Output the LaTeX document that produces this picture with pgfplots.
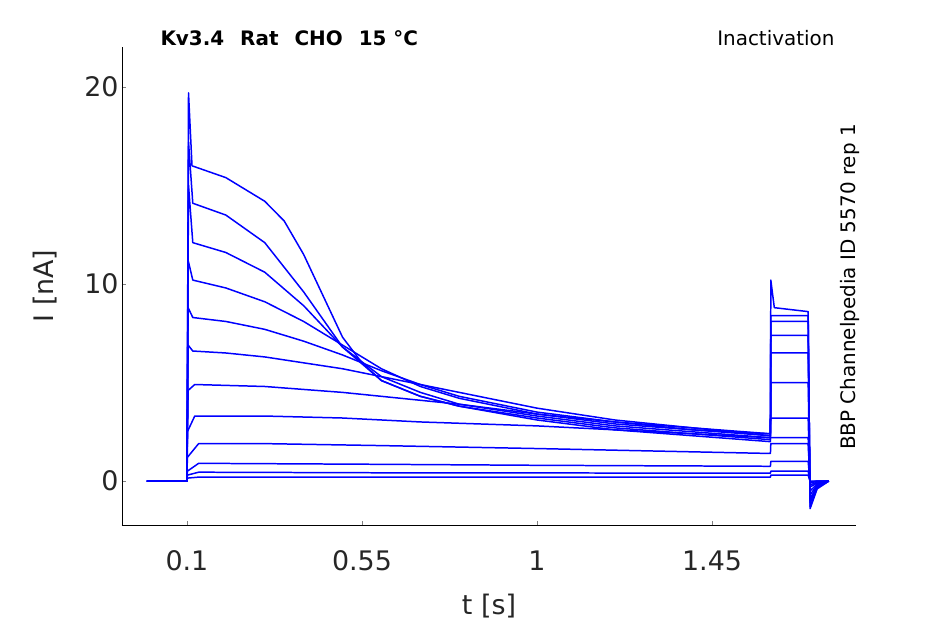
\documentclass[border=0pt]{standalone}
\usepackage{pgfplots}
\pgfplotsset{compat=1.18}
\usepackage{fontspec}
\setmainfont{DejaVu Sans}
\tikzset{tr/.style={blue, line width=1.5pt, mark=none, line join=round}}
\begin{document}
\begin{tikzpicture}
\path[use as bounding box] (-122bp,-99bp) rectangle (823bp,525bp);
\begin{axis}[scale only axis, width=734bp, height=478bp,
 xmin=-0.067, xmax=1.82, ymin=-2.23, ymax=22.03,
 axis x line*=bottom, axis y line*=left,
 xtick={0.1,0.55,1,1.45}, xticklabels={0.1,0.55,1,1.45},
 ytick={0,10,20}, tick align=inside,
 tick label style={font=\fontsize{27}{29}\selectfont, text=black!85},
 xticklabel style={yshift=-22bp},
 /pgf/number format/assume math mode=true,
 xlabel={t [s]}, ylabel={I [nA]},
 label style={font=\fontsize{27}{29}\selectfont, text=black!85},
 xlabel style={yshift=-16bp}, ylabel style={yshift=20bp},
 clip=false]
\addplot[tr] coordinates {(-0.003,0)(0.1,0)(0.101,0.15)(0.13,0.2)(0.6,0.2)(1.6,0.2)(1.601,0.3)(1.697,0.3)(1.702,0)(1.75,0)};
\addplot[tr] coordinates {(-0.003,0)(0.1,0)(0.101,0.3)(0.13,0.45)(0.6,0.42)(1.6,0.4)(1.601,0.5)(1.697,0.5)(1.702,-0.05)(1.72,0)(1.75,0)};
\addplot[tr] coordinates {(-0.003,0)(0.1,0)(0.101,0.5)(0.13,0.9)(0.6,0.85)(1.0,0.8)(1.6,0.75)(1.601,1.0)(1.697,1.0)(1.702,-0.1)(1.72,0)(1.75,0)};
\addplot[tr] coordinates {(-0.003,0)(0.1,0)(0.101,1.2)(0.13,1.9)(0.3,1.9)(0.6,1.8)(1.0,1.65)(1.6,1.4)(1.601,1.9)(1.697,1.9)(1.702,-0.2)(1.72,-0.05)(1.75,0)};
\addplot[tr] coordinates {(-0.003,0)(0.1,0)(0.101,2.5)(0.12,3.3)(0.3,3.3)(0.5,3.2)(0.7,3.0)(1.0,2.8)(1.3,2.5)(1.6,2.2)(1.601,2.2)(1.697,2.2)(1.702,-0.3)(1.72,-0.1)(1.75,0)};
\addplot[tr] coordinates {(-0.003,0)(0.1,0)(0.103,4.6)(0.12,4.9)(0.3,4.8)(0.5,4.5)(0.7,4.1)(0.8,3.9)(1.0,3.4)(1.2,3.0)(1.4,2.7)(1.6,2.3)(1.601,3.2)(1.697,3.2)(1.702,-0.5)(1.72,-0.15)(1.75,0)};
\addplot[tr] coordinates {(-0.003,0)(0.1,0)(0.103,6.9)(0.115,6.6)(0.2,6.5)(0.3,6.3)(0.4,6.0)(0.5,5.7)(0.6,5.3)(0.7,4.9)(0.8,4.5)(1.0,3.7)(1.2,3.1)(1.4,2.7)(1.6,2.4)(1.601,5.0)(1.697,5.0)(1.702,-0.7)(1.72,-0.2)(1.75,0)};
\addplot[tr] coordinates {(-0.003,0)(0.1,0)(0.103,8.8)(0.115,8.3)(0.2,8.1)(0.3,7.7)(0.4,7.1)(0.5,6.4)(0.6,5.6)(0.7,4.9)(0.8,4.3)(1.0,3.5)(1.2,3.0)(1.4,2.6)(1.6,2.4)(1.601,6.5)(1.697,6.5)(1.702,-0.9)(1.72,-0.25)(1.75,0)};
\addplot[tr] coordinates {(-0.003,0)(0.1,0)(0.103,11.2)(0.115,10.2)(0.2,9.8)(0.3,9.1)(0.4,8.1)(0.5,6.9)(0.6,5.7)(0.7,4.8)(0.8,4.2)(1.0,3.4)(1.2,2.9)(1.4,2.6)(1.6,2.3)(1.601,7.4)(1.697,7.4)(1.702,-1.0)(1.72,-0.3)(1.75,0)};
\addplot[tr] coordinates {(-0.003,0)(0.1,0)(0.104,15.0)(0.115,12.1)(0.2,11.6)(0.3,10.6)(0.4,8.9)(0.5,6.8)(0.6,5.3)(0.7,4.5)(0.8,3.9)(1.0,3.3)(1.2,2.8)(1.4,2.5)(1.6,2.2)(1.601,8.1)(1.697,8.1)(1.702,-1.1)(1.72,-0.3)(1.75,0)};
\addplot[tr] coordinates {(-0.003,0)(0.1,0)(0.104,17.2)(0.115,14.1)(0.2,13.5)(0.3,12.1)(0.4,9.6)(0.5,6.8)(0.6,5.1)(0.7,4.3)(0.8,3.8)(1.0,3.2)(1.2,2.7)(1.4,2.4)(1.6,2.1)(1.601,8.4)(1.697,8.4)(1.702,-1.3)(1.72,-0.35)(1.75,0)};
\addplot[tr] coordinates {(-0.003,0)(0.1,0)(0.104,19.7)(0.113,16.0)(0.2,15.4)(0.3,14.2)(0.35,13.2)(0.4,11.5)(0.45,9.4)(0.5,7.3)(0.55,6.0)(0.6,5.1)(0.7,4.3)(0.8,3.8)(1.0,3.1)(1.2,2.6)(1.4,2.3)(1.6,2.0)(1.601,10.2)(1.61,8.8)(1.697,8.6)(1.702,-1.4)(1.72,-0.4)(1.75,0)};
\end{axis}
\node[anchor=base west, font=\bfseries\fontsize{20}{22}\selectfont] at (35bp,479bp) {Kv3.4\hspace{16bp}Rat\hspace{16bp}CHO\hspace{16bp}15 °C};
\node[anchor=base east, font=\fontsize{20}{22}\selectfont] at (716bp,479bp) {Inactivation};
\node[anchor=center, rotate=90, font=\fontsize{20}{22}\selectfont] at (728bp,238bp) {BBP Channelpedia ID 5570 rep 1};
\end{tikzpicture}
\end{document}
